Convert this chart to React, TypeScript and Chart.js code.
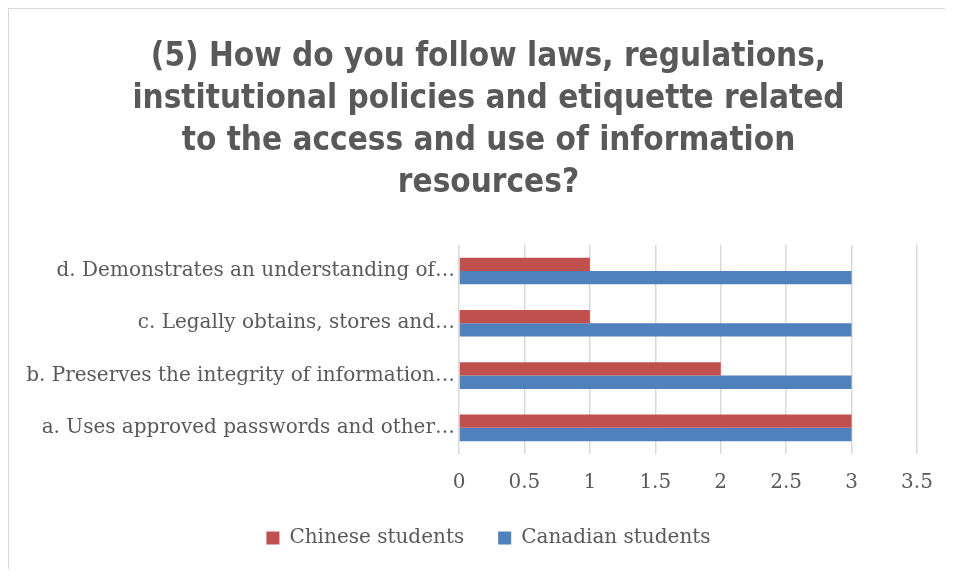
import React, { useEffect, useRef } from "react";
import { Chart, registerables } from "chart.js";

Chart.register(...registerables);

const categories = [
  "d. Demonstrates an understanding of…",
  "c. Legally obtains, stores and…",
  "b. Preserves the integrity of information…",
  "a. Uses approved passwords and other…",
];
const chineseStudents = [1, 1, 2, 3];
const canadianStudents = [3, 3, 3, 3];
const seriesNames = ["Chinese students", "Canadian students"];
const titleLines = [
  "(5) How do you follow laws, regulations,",
  "institutional policies and etiquette related",
  "to the access and use of information",
  "resources?",
];
const xMin = 0;
const xMax = 3.5;
const xStep = 0.5;

const TEXT = "#595959";
const GRID = "#d9d9d9";
const LABEL_FONT = "'DejaVu Serif', 'Liberation Serif', serif";
const TITLE_FONT = "'DejaVu Sans Condensed', 'Liberation Sans', sans-serif";

// Lets the long category labels extend left of the y-axis box without being clipped.
const unclipYLabels = {
  id: "unclipYLabels",
  afterLayout(chart: any) {
    const y = chart.scales.y;
    if (y) y.left = 0;
  },
};

export default function App() {
  const ref = useRef<HTMLCanvasElement | null>(null);

  useEffect(() => {
    if (!ref.current) return;
    const chart = new Chart(ref.current, {
      type: "bar",
      data: {
        labels: categories,
        datasets: [
          {
            label: seriesNames[0],
            data: chineseStudents,
            backgroundColor: "#C0504D",
            categoryPercentage: 0.51,
            barPercentage: 1,
          },
          {
            label: seriesNames[1],
            data: canadianStudents,
            backgroundColor: "#4F81BD",
            categoryPercentage: 0.51,
            barPercentage: 1,
          },
        ],
      },
      plugins: [unclipYLabels],
      options: {
        indexAxis: "y",
        animation: false,
        responsive: true,
        maintainAspectRatio: false,
        layout: { padding: { left: 51, right: 28, top: 0, bottom: 11 } },
        plugins: {
          title: {
            display: true,
            text: titleLines,
            color: TEXT,
            font: { family: TITLE_FONT, size: 33, weight: "bold", lineHeight: 1.264 },
            padding: { top: 28, bottom: 41 },
          },
          legend: {
            position: "bottom",
            labels: {
              color: TEXT,
              font: { family: LABEL_FONT, size: 20 },
              boxWidth: 13,
              boxHeight: 13,
              padding: 34,
            },
          },
          tooltip: { enabled: false },
        },
        scales: {
          x: {
            min: xMin,
            max: xMax,
            ticks: {
              stepSize: xStep,
              color: TEXT,
              font: { family: LABEL_FONT, size: 20 },
              padding: 9,
              callback: (v: any) => String(Number(v)),
            },
            grid: {
              color: GRID,
              lineWidth: 1.5,
              drawTicks: true,
              tickLength: 8,
              tickColor: "rgba(0,0,0,0)",
            },
            border: { display: false },
            afterFit: (scale: any) => {
              scale.height = 40;
            },
          },
          y: {
            ticks: {
              color: TEXT,
              font: { family: LABEL_FONT, size: 20 },
              padding: 4,
            },
            grid: { display: false, drawTicks: false },
            border: { display: false },
            afterFit: (scale: any) => {
              scale.width = 399;
            },
          },
        },
      },
    });
    return () => chart.destroy();
  }, []);

  return (
    <div
      style={{
        width: 936,
        height: 560,
        borderTop: "1px solid #d9d9d9",
        borderLeft: "1px solid #d9d9d9",
        position: "relative",
        background: "#fff",
      }}
    >
      <canvas ref={ref} />
    </div>
  );
}
